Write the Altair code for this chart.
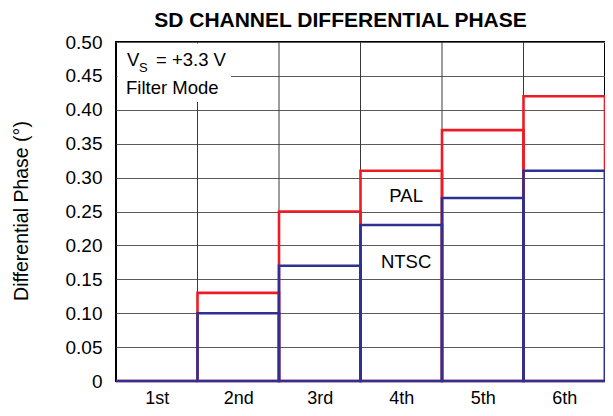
import altair as alt
import pandas as pd

# ---- data ----
categories = ["1st", "2nd", "3rd", "4th", "5th", "6th"]
pal_values = [0.0, 0.13, 0.25, 0.31, 0.37, 0.42]
ntsc_values = [0.0, 0.10, 0.17, 0.23, 0.27, 0.31]
y_tick_values = [0, 0.05, 0.10, 0.15, 0.20, 0.25, 0.30, 0.35, 0.40, 0.45, 0.50]
series_names = ["PAL", "NTSC"]


def series_frame(values, name):
    return pd.DataFrame({
        "cat": categories,
        "start": list(range(len(categories))),
        "end": [i + 1 for i in range(len(categories))],
        "base": [0.0] * len(categories),
        "value": values,
        "series": [name] * len(categories),
    })


df_pal = series_frame(pal_values, "PAL")
df_ntsc = series_frame(ntsc_values, "NTSC")
df_bounds = pd.DataFrame({"b": list(range(1, len(categories)))})

# ---- styling ----
W, H = 489, 339
RED = "#ED1C24"
BLUE = "#2E3192"
FONT = "Liberation Sans"

x_scale = alt.Scale(domain=[0, len(categories)], nice=False, zero=False)
y_scale = alt.Scale(domain=[0, 0.5], nice=False)

label_expr = "[" + ",".join("'%s'" % c for c in categories) + "][floor(datum.value)]"

x_axis = alt.Axis(
    values=[i + 0.5 for i in range(len(categories))],
    labelExpr=label_expr,
    title=None,
    grid=False,
    ticks=False,
    domain=False,
    labelFontSize=18,
    labelPadding=8,
    labelFont=FONT,
    labelColor="black",
)
y_axis = alt.Axis(
    values=y_tick_values,
    labelExpr="datum.value == 0 ? '0' : format(datum.value, '.2f')",
    title="Differential Phase (°)",
    grid=True,
    gridColor="#5a5a5a",
    gridWidth=1,
    gridOpacity=1,
    ticks=False,
    domain=False,
    labelFontSize=19,
    labelPadding=14,
    labelFont=FONT,
    labelColor="black",
    titleFont=FONT,
    titleFontSize=19.5,
    titleFontWeight="normal",
    titleColor="black",
    titleX=-89,
    titleY=H / 2 - 1,
    titleBaseline="alphabetic",
)

rules = alt.Chart(df_bounds).mark_rule(color="#3a3a3a", strokeWidth=1).encode(
    x=alt.X("b:Q", scale=x_scale, axis=x_axis),
    y=alt.value(0),
    y2=alt.value(H),
)

one = alt.Data(values=[{}])

white_box = alt.Chart(one).mark_rect(color="white").encode(
    x=alt.value(1.5), x2=alt.value(115), y=alt.value(1.5), y2=alt.value(60)
)


def bars(df, color):
    return alt.Chart(df).mark_rect(filled=False, color=color, strokeWidth=2.6).encode(
        x=alt.X("start:Q", scale=x_scale, axis=x_axis),
        x2="end:Q",
        y=alt.Y("value:Q", scale=y_scale, axis=y_axis),
        y2="base:Q",
    )


bars_pal = bars(df_pal, RED)
bars_ntsc = bars(df_ntsc, BLUE)


def txt(text, x, y, size=18.5, weight="normal", align="left"):
    return alt.Chart(one).mark_text(
        text=text, font=FONT, fontSize=size, fontWeight=weight, align=align,
        baseline="alphabetic", color="black"
    ).encode(x=alt.value(x), y=alt.value(y))


title = txt("SD CHANNEL DIFFERENTIAL PHASE", 224.5, -15, size=21, weight="bold", align="center")
v_text = txt("V", 11, 24)
s_text = txt("S", 23, 30, size=13)
eq_text = txt("= +3.3 V", 40, 24)
mode_text = txt("Filter Mode", 10, 52)

series_labels = alt.Chart(pd.DataFrame({
    "label": series_names,
    "xpos": [3.56, 3.56],
    "ypos": [0.264, 0.167],
})).mark_text(font=FONT, fontSize=18.5, align="center", baseline="alphabetic", color="black").encode(
    x=alt.X("xpos:Q", scale=x_scale, axis=x_axis),
    y=alt.Y("ypos:Q", scale=y_scale, axis=y_axis),
    text="label:N",
)

chart = alt.layer(
    rules, white_box, bars_pal, bars_ntsc, series_labels,
    title, v_text, s_text, eq_text, mode_text,
).properties(
    width=W,
    height=H,
    padding={"left": 108, "top": 34, "right": 0, "bottom": 27},
    autosize=alt.AutoSizeParams(type="none"),
    background="white",
).configure_view(
    stroke="black", strokeWidth=2
)

chart.save("out.html", embed_options={"renderer": "svg", "actions": False})
